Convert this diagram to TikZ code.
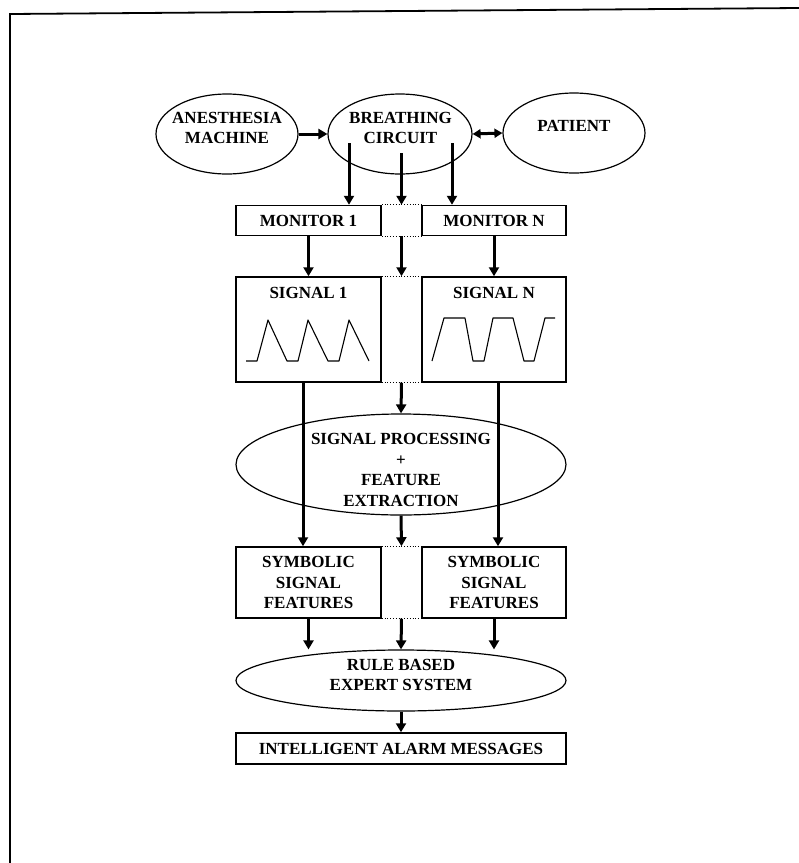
\documentclass[tikz,border=0pt]{standalone}
\usepackage{fontspec}
\setmainfont{Liberation Serif}
\usetikzlibrary{shapes.geometric,arrows.meta,calc}
\begin{document}
\begin{tikzpicture}[x=1pt,y=-1pt,
  txt/.style={font=\bfseries\fontsize{17}{20.5}\selectfont, align=center, inner sep=0pt},
  ell/.style={draw, ellipse, line width=1.2pt, inner sep=0pt},
  box/.style={draw, rectangle, line width=1.5pt, inner sep=0pt, font=\bfseries\fontsize{17}{20.5}\selectfont, align=center},
  arr/.style={line width=3pt, -{Triangle[width=10pt,length=9pt]}},
  darr/.style={line width=3pt, {Triangle[width=9pt,length=8pt]}-{Triangle[width=9pt,length=8pt]}},
  dots/.style={dotted, line width=0.8pt},
  wave/.style={line width=1.1pt, line join=round}]
\useasboundingbox (0,0) rectangle (799,863);
\draw[line width=1.8pt] (10,863) -- (10,14) -- (799,8);

% top row
\node[ell, minimum width=142pt, minimum height=80pt] (am) at (227,134) {};
\node[txt] (amt) at (227,128) {ANESTHESIA\\MACHINE};
\node[ell, minimum width=144pt, minimum height=80pt] (bc) at (400,134) {};
\node[txt] (bct) at (400.5,128) {BREATHING\\CIRCUIT};
\node[ell, minimum width=142pt, minimum height=80pt] (pt) at (574,133) {};
\node[txt] (ptt) at (574,126) {PATIENT};
\draw[arr] (am.east) -- (bc.west);
\draw[darr] (bc.east) -- (pt.west);

% monitors
\node[box, minimum width=145pt, minimum height=30pt] (m1) at (308.5,220.5) {MONITOR 1};
\node[box, minimum width=144pt, minimum height=30pt] (mn) at (494,220.5) {MONITOR N};
\draw[dots] (m1.north east) -- (mn.north west);
\draw[dots] (m1.south east) -- (mn.south west);
\coordinate (b1) at (349,143);
\coordinate (b2) at (401.5,153);
\coordinate (b3) at (452,143);
\draw[arr] (b1) -- (b1 |- m1.north);
\draw[arr] (b2) -- ($(m1.north east)!0.5!(mn.north west)$);
\draw[arr] (b3) -- (b3 |- mn.north);

% signals
\node[box, minimum width=145pt, minimum height=105pt] (s1) at (308.5,329.5) {};
\node[box, minimum width=144pt, minimum height=105pt] (sn) at (494,329.5) {};
\node[txt] (s1t) at (308.5,293) {SIGNAL 1};
\node[txt] (snt) at (494,292.5) {SIGNAL N};
\draw[dots] (s1.north east) -- (sn.north west);
\draw[dots] (s1.south east) -- (sn.south west);
\draw[arr] (m1.south) -- (m1.south |- s1.north);
\draw[arr] (mn.south) -- (mn.south |- sn.north);
\draw[arr] ($(m1.south east)!0.5!(mn.south west)$) -- ($(s1.north east)!0.5!(sn.north west)$);
\draw[wave] (246,361) -- (257,361) -- (268,320) -- (287,361) -- (298,361) -- (308,320) -- (328,361) -- (339,361) -- (349,320) -- (369,361);
\draw[wave] (432,361) -- (444,318) -- (465,318) -- (473,361) -- (484,361) -- (493,318) -- (513,318) -- (524,361) -- (534,361) -- (545,318) -- (555,318);

% signal processing
\node[ell, minimum width=330pt, minimum height=101pt] (sp) at (401,464.5) {};
\node[txt] (spt) at (401,470) {SIGNAL PROCESSING\\+\\FEATURE\\EXTRACTION};
\draw[arr] ($(s1.south east)!0.5!(sn.south west)$) -- (sp.north);

% symbolic features
\node[box, minimum width=145pt, minimum height=71pt] (y1) at (308.5,582.5) {SYMBOLIC\\SIGNAL\\FEATURES};
\node[box, minimum width=144pt, minimum height=71pt] (yn) at (494,582.5) {SYMBOLIC\\SIGNAL\\FEATURES};
\draw[dots] (y1.north east) -- (yn.north west);
\draw[dots] (y1.south east) -- (yn.south west);
\draw[arr] ([xshift=-5.5pt]s1.south) -- ([xshift=-5.5pt]s1.south |- y1.north);
\draw[arr] ([xshift=4pt]sn.south) -- ([xshift=4pt]sn.south |- yn.north);
\draw[arr] (sp.south) -- ($(y1.north east)!0.5!(yn.north west)$);

% rule based
\node[ell, minimum width=330pt, minimum height=61pt] (rb) at (401,680.5) {};
\node[txt] (rbt) at (401,675) {RULE BASED\\EXPERT SYSTEM};
\draw[arr] (y1.south) -- (y1.south |- rb.north);
\draw[arr] (yn.south) -- (yn.south |- rb.north);
\draw[arr] ($(y1.south east)!0.5!(yn.south west)$) -- (rb.north);

% alarm
\node[box, minimum width=330pt, minimum height=31pt] (ia) at (401,748.5) {INTELLIGENT ALARM MESSAGES};
\draw[arr] (rb.south) -- (ia.north);
\end{tikzpicture}
\end{document}
